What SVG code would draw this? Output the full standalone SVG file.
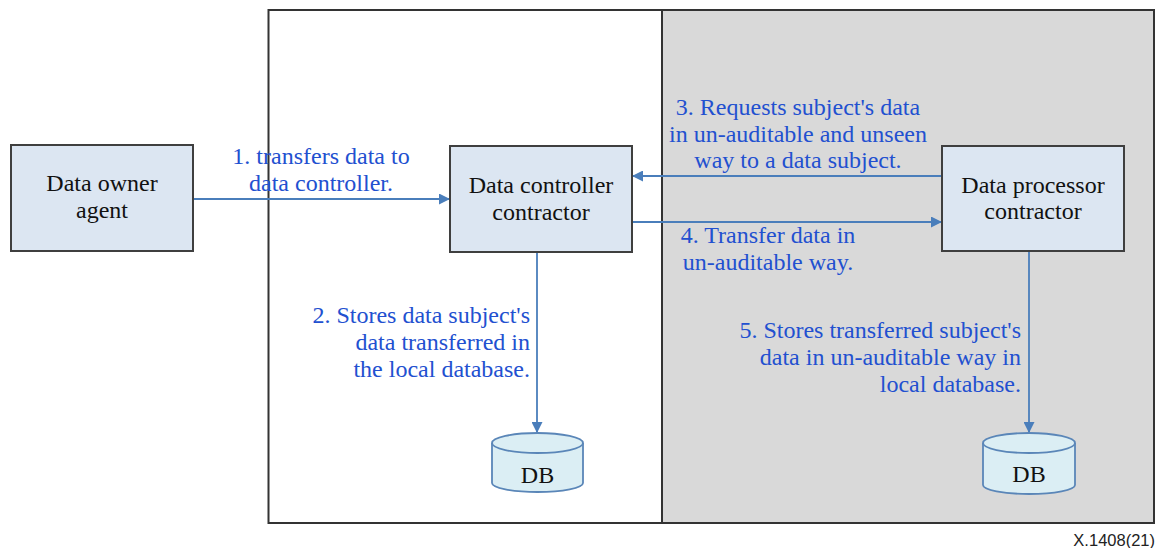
<svg xmlns="http://www.w3.org/2000/svg" width="1158" height="548" viewBox="0 0 1158 548">
  <defs>
    <marker id="arrow" viewBox="0 0 10 10" refX="10" refY="5" markerWidth="11" markerHeight="11" markerUnits="userSpaceOnUse" orient="auto">
      <path d="M0,0 L10,5 L0,10 z" fill="#4a7ebb"/>
    </marker>
    <style>
      .frame { fill: none; stroke: #333333; stroke-width: 2; }
      .box { fill: #dce6f2; stroke: #3f3f3f; stroke-width: 2; }
      .db { fill: #dbeef4; stroke: #5a86b8; stroke-width: 1.8; }
      .conn { fill: none; stroke: #4a7ebb; stroke-width: 1.8; marker-end: url(#arrow); }
      .node { font-family: 'Liberation Serif', 'DejaVu Serif', serif; font-size: 24px; fill: #111111; text-anchor: middle; }
      .lbl { font-family: 'Liberation Serif', 'DejaVu Serif', serif; font-size: 24px; fill: #2250d0; }
      .mid { text-anchor: middle; }
      .end { text-anchor: end; }
      .ref { font-family: 'Liberation Sans', Arial, sans-serif; font-size: 16.5px; fill: #222222; text-anchor: end; }
    </style>
  </defs>

  <!-- zones -->
  <g id="zones">
    <rect x="662" y="10" width="492" height="513" fill="#d9d9d9"/>
    <rect class="frame" x="268.5" y="10" width="885.5" height="513"/>
    <line x1="662" y1="10" x2="662" y2="523" stroke="#333333" stroke-width="2"/>
  </g>

  <!-- connectors -->
  <g id="connectors">
    <line class="conn" x1="193" y1="199" x2="450" y2="199"/>
    <line class="conn" x1="942" y1="176" x2="632" y2="176"/>
    <line class="conn" x1="632" y1="222" x2="942" y2="222"/>
    <line class="conn" x1="537" y1="252" x2="537" y2="433"/>
    <line class="conn" x1="1029" y1="251" x2="1029" y2="433"/>
  </g>

  <!-- connector labels -->
  <g id="labels">
    <text class="lbl mid" x="321" y="164">1. transfers data to</text>
    <text class="lbl mid" x="321" y="191">data controller.</text>

    <text class="lbl end" x="530" y="323">2. Stores data subject's</text>
    <text class="lbl end" x="530" y="350">data transferred in</text>
    <text class="lbl end" x="530" y="377">the local database.</text>

    <text class="lbl mid" x="798" y="115">3. Requests subject's data</text>
    <text class="lbl mid" x="798" y="142">in un-auditable and unseen</text>
    <text class="lbl mid" x="798" y="168">way to a data subject.</text>

    <text class="lbl mid" x="768" y="243">4. Transfer data in</text>
    <text class="lbl mid" x="768" y="270">un-auditable way.</text>

    <text class="lbl end" x="1021" y="338">5. Stores transferred subject's</text>
    <text class="lbl end" x="1021" y="365">data in un-auditable way in</text>
    <text class="lbl end" x="1021" y="392">local database.</text>
  </g>

  <g id="data-owner-agent">
    <rect class="box" x="11" y="145" width="182" height="106"/>
    <text class="node" x="102" y="191">Data owner</text>
    <text class="node" x="102" y="218">agent</text>
  </g>

  <g id="data-controller-contractor">
    <rect class="box" x="450" y="146" width="182" height="106"/>
    <text class="node" x="541" y="193">Data controller</text>
    <text class="node" x="541" y="220">contractor</text>
  </g>

  <g id="data-processor-contractor">
    <rect class="box" x="942" y="146" width="182" height="105"/>
    <text class="node" x="1033" y="193">Data processor</text>
    <text class="node" x="1033" y="219">contractor</text>
  </g>

  <g id="db-controller">
    <path class="db" d="M492,443 L492,483 A45.5,9 0 0 0 583,483 L583,443"/>
    <ellipse class="db" cx="537.5" cy="443" rx="45.5" ry="10"/>
    <text class="node" x="537.5" y="483">DB</text>
  </g>

  <g id="db-processor">
    <path class="db" d="M983,443 L983,485 A46,9 0 0 0 1075,485 L1075,443"/>
    <ellipse class="db" cx="1029" cy="443" rx="46" ry="10"/>
    <text class="node" x="1029" y="482">DB</text>
  </g>

  <text class="ref" x="1155" y="546">X.1408(21)</text>
</svg>
